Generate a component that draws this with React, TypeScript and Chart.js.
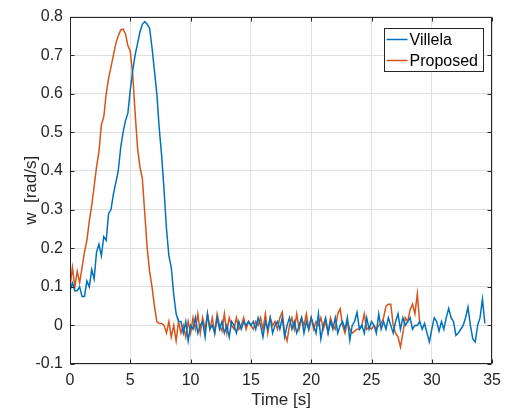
import React, { useEffect, useRef } from "react";
import { Chart, registerables } from "chart.js";

Chart.register(...registerables);

// ---- data ----
const SAMPLE_STEP = 0.2; // seconds between samples

const seriesNames = ["Villela", "Proposed"];
const seriesColors = ["#0072BD", "#D95319"];

const villela = [
  0.09, 0.11, 0.09, 0.09, 0.10, 0.075, 0.075, 0.115, 0.10, 0.145,
  0.12, 0.19, 0.21, 0.18, 0.23, 0.22, 0.29, 0.30, 0.34, 0.37,
  0.40, 0.46, 0.50, 0.53, 0.55, 0.61, 0.66, 0.70, 0.73, 0.76,
  0.78, 0.787, 0.78, 0.77, 0.72, 0.66, 0.60, 0.51, 0.44, 0.35,
  0.25, 0.18, 0.15, 0.08, 0.03, 0.01,
  0.01, -0.02, 0.01, -0.04, 0.0, -0.01, 0.02, -0.02, 0.0, 0.01,
  -0.03, 0.03, -0.01, 0.0, -0.02, 0.02, -0.01, 0.01, -0.02, 0.0,
  -0.03, 0.01, 0.0, -0.02, 0.01, -0.01, 0.01, 0.0, 0.01, 0.0,
  0.01, -0.01, 0.02, 0.0, -0.03, 0.01, -0.01, 0.02, -0.02, 0.0,
  0.01, -0.01, 0.02, -0.03, 0.0, 0.02, -0.01, 0.01, -0.02, 0.0,
  0.02, -0.02, 0.01, -0.01, 0.02, 0.0, -0.02, 0.03, -0.035, 0.0,
  0.02, -0.02, 0.01, -0.01, 0.02, -0.02, 0.0, 0.01, -0.01, 0.02,
  -0.038, 0.0, 0.01, 0.034, -0.01, 0.0, -0.02, 0.02, -0.01, 0.01,
  0.0, -0.02, 0.03, -0.01, 0.01, -0.01, 0.02, 0.0, -0.02, 0.01,
  0.03, -0.01, 0.02, 0.0, 0.01, 0.02, -0.01, 0.0, 0.0, 0.01,
  -0.01, 0.005, -0.02, -0.043, -0.01, 0.02, 0.01, -0.015, 0.01, -0.01,
  0.02, 0.044, 0.02, 0.01, -0.026, -0.02, -0.01, 0.0, 0.02, 0.047,
  0.0, -0.035, -0.043, 0.0, 0.02, 0.068, 0.005,
];

const proposed = [
  0.10, 0.15, 0.10, 0.14, 0.11, 0.15, 0.19, 0.22, 0.27, 0.31,
  0.36, 0.41, 0.45, 0.52, 0.54, 0.60, 0.64, 0.67, 0.70, 0.73,
  0.75, 0.765, 0.768, 0.755, 0.725, 0.71, 0.65, 0.55, 0.46, 0.41,
  0.38, 0.29, 0.20, 0.14, 0.10, 0.05, 0.01, 0.005, 0.005, 0.0,
  -0.02, 0.01, -0.03, 0.0, -0.04, 0.01, -0.02, 0.0, -0.03, 0.01,
  -0.02, 0.02, -0.01, 0.03, -0.02, 0.02, -0.01, 0.03, -0.01, 0.02,
  -0.02, 0.03, 0.0, -0.015, 0.03, -0.02, 0.02, 0.0, -0.01, 0.02,
  -0.01, 0.0, 0.02, -0.01, 0.01, 0.0, -0.01, 0.01, 0.0, 0.02,
  -0.01, 0.03, -0.02, 0.02, 0.0, 0.01, -0.01, 0.02, 0.035, -0.02,
  -0.04, 0.0, 0.02, -0.01, 0.03, -0.01, 0.02, 0.0, 0.03, -0.01,
  0.02, -0.01, 0.01, 0.0, 0.02, -0.01, 0.01, -0.02, 0.02, 0.0,
  -0.01, 0.03, 0.043, 0.0, -0.02, 0.01, -0.01, -0.02, -0.015, -0.01,
  -0.01, 0.0, 0.03, -0.01, -0.005, -0.01, 0.0, -0.01, 0.0, 0.005,
  0.02, 0.05, 0.055, 0.055, 0.0, -0.02, -0.03, -0.056, -0.02, 0.02,
  0.01, 0.04, 0.055, 0.03, 0.082, 0.005,
];

const xTickValues = [0, 5, 10, 15, 20, 25, 30, 35];
const yTickValues = [-0.1, 0, 0.1, 0.2, 0.3, 0.4, 0.5, 0.6, 0.7, 0.8];
const xTitle = "Time [s]";
const yTitle = "w  [rad/s]";

// ---- styling ----
const FONT = "'Liberation Sans', Arial, Helvetica, sans-serif";
const AXIS_COLOR = "#262626";
const GRID_COLOR = "#dfdfdf";

const fmtY = (v: number) => (Math.abs(v) < 1e-9 ? "0" : (Math.round(v * 10) / 10).toString());

const framePlugin = {
  id: "matlabFrame",
  afterDatasetsDraw(chart: any) {
    const { ctx, chartArea, scales } = chart;
    const { left, right, top, bottom } = chartArea;
    ctx.save();
    ctx.strokeStyle = AXIS_COLOR;
    ctx.lineWidth = 1;
    const L = Math.round(left) + 0.5;
    const R = Math.round(right) - 0.5;
    const T = Math.round(top) + 0.5;
    const B = Math.round(bottom) - 0.5;
    ctx.beginPath();
    ctx.rect(L, T, R - L, B - T);
    ctx.stroke();
    const tl = 4;
    ctx.beginPath();
    for (const v of xTickValues) {
      const px = Math.round(scales.x.getPixelForValue(v)) + 0.5;
      ctx.moveTo(px, B);
      ctx.lineTo(px, B - tl);
      ctx.moveTo(px, T);
      ctx.lineTo(px, T + tl);
    }
    for (const v of yTickValues) {
      const py = Math.round(scales.y.getPixelForValue(v)) + 0.5;
      ctx.moveTo(L, py);
      ctx.lineTo(L + tl, py);
      ctx.moveTo(R, py);
      ctx.lineTo(R - tl, py);
    }
    ctx.stroke();

    // legend
    ctx.font = `16px ${FONT}`;
    const textW = Math.max(...seriesNames.map((n) => ctx.measureText(n).width));
    const boxRight = Math.round(right) - 8.5;
    const boxTop = Math.round(top) + 11.5;
    const lineLen = 21;
    const boxW = 3 + lineLen + 2 + textW + 5;
    const rowH = 21;
    const boxH = 2 * rowH + 1;
    const boxLeft = Math.round(boxRight - boxW) + 0.5;
    ctx.fillStyle = "#ffffff";
    ctx.fillRect(boxLeft, boxTop, boxRight - boxLeft, boxH);
    ctx.strokeStyle = AXIS_COLOR;
    ctx.strokeRect(boxLeft, boxTop, boxRight - boxLeft, boxH);
    seriesNames.forEach((name, i) => {
      const cy = boxTop + 11 + i * rowH;
      ctx.strokeStyle = seriesColors[i];
      ctx.lineWidth = 1.5;
      ctx.beginPath();
      ctx.moveTo(boxLeft + 2, cy);
      ctx.lineTo(boxLeft + 2 + lineLen, cy);
      ctx.stroke();
      ctx.fillStyle = "#000000";
      ctx.textAlign = "left";
      ctx.textBaseline = "middle";
      ctx.fillText(name, boxLeft + 2 + lineLen + 2, cy + 1);
    });
    ctx.restore();
  },
};

export default function App() {
  const ref = useRef<HTMLCanvasElement>(null);
  useEffect(() => {
    const canvas = ref.current;
    if (!canvas) return;
    const toPoints = (vals: number[]) =>
      vals.map((v, i) => ({ x: Math.round(i * SAMPLE_STEP * 100) / 100, y: v }));
    const chart = new Chart(canvas, {
      type: "line",
      data: {
        datasets: [
          {
            label: seriesNames[0],
            data: toPoints(villela),
            borderColor: seriesColors[0],
            borderWidth: 1.5,
            pointRadius: 0,
            fill: false,
            tension: 0,
          },
          {
            label: seriesNames[1],
            data: toPoints(proposed),
            borderColor: seriesColors[1],
            borderWidth: 1.5,
            pointRadius: 0,
            fill: false,
            tension: 0,
          },
        ],
      },
      options: {
        animation: false,
        responsive: false,
        devicePixelRatio: 1,
        layout: { padding: { top: 13, right: 11, left: 0, bottom: 0 } },
        plugins: { legend: { display: false }, tooltip: { enabled: false } },
        scales: {
          x: {
            type: "linear",
            min: 0,
            max: 35,
            afterFit: (s: any) => {
              s.height = 47;
            },
            afterBuildTicks: (s: any) => {
              s.ticks = xTickValues.map((v) => ({ value: v }));
            },
            ticks: {
              font: { family: FONT, size: 16 },
              color: AXIS_COLOR,
              padding: 7,
              maxRotation: 0,
              autoSkip: false,
              callback: (v: any) => String(v),
            },
            grid: { color: GRID_COLOR, drawTicks: false, lineWidth: 1 },
            border: { display: false },
            title: {
              display: true,
              text: xTitle,
              font: { family: FONT, size: 17 },
              color: AXIS_COLOR,
              padding: { top: 0, bottom: 0 },
            },
          },
          y: {
            type: "linear",
            min: -0.1,
            max: 0.8,
            afterFit: (s: any) => {
              s.width = 70;
            },
            afterBuildTicks: (s: any) => {
              s.ticks = yTickValues.map((v) => ({ value: v }));
            },
            ticks: {
              font: { family: FONT, size: 16 },
              color: AXIS_COLOR,
              padding: 7,
              autoSkip: false,
              callback: (v: any) => fmtY(Number(v)),
            },
            grid: { color: GRID_COLOR, drawTicks: false, lineWidth: 1 },
            border: { display: false },
            title: {
              display: true,
              text: yTitle,
              font: { family: FONT, size: 17 },
              color: AXIS_COLOR,
              padding: { top: 21, bottom: 0 },
            },
          },
        },
      },
      plugins: [framePlugin],
    });
    return () => chart.destroy();
  }, []);

  return (
    <div style={{ position: "fixed", left: 0, top: 0, width: 508, height: 411, background: "#fff" }}>
      <canvas ref={ref} width={508} height={411} style={{ width: 508, height: 411, display: "block" }} />
    </div>
  );
}
